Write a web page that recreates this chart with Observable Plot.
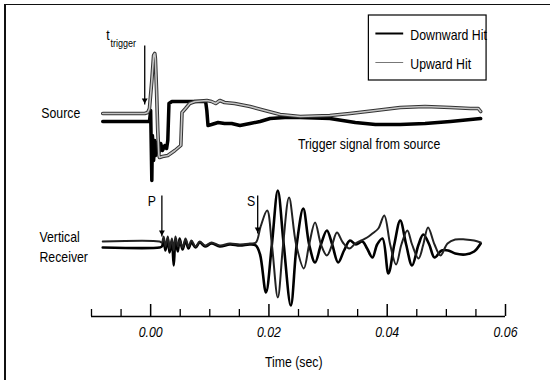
<!DOCTYPE html>
<html><head><meta charset="utf-8">
<script src="https://cdn.jsdelivr.net/npm/d3@7"></script>
<script src="https://cdn.jsdelivr.net/npm/@observablehq/plot@0.6"></script>
<style>
html,body{margin:0;padding:0;background:#fff;}
#wrap{position:relative;width:550px;height:380px;overflow:hidden;}
#chart svg{display:block;}
#border{position:absolute;left:4px;top:4px;width:560px;height:400px;box-sizing:border-box;border-top:1.5px solid #111;border-left:2px solid #111;pointer-events:none;}
</style></head><body>
<div id="wrap"><div id="chart"></div><div id="border"></div></div>
<script>
// ---- Source trace (trigger signal), time in seconds, amplitude in arbitrary units ----
const srcDownT = [-0.0081,-0.0003,-0.0002,0.0000,0.0002,0.0003,0.0005,0.0007,0.0008,0.0010,0.0014,0.0017,0.0020,0.0024,0.0027,0.0029,0.0031,0.0036,0.0066,0.0093,0.0095,0.0097,0.0103,0.0114,0.0125,0.0137,0.0151,0.0168,0.0185,0.0202,0.0227,0.0253,0.0303,0.0346,0.0380,0.0422,0.0464,0.0507,0.0558];
const srcDownA = [0,0,0,11,-59,-14,-39,-19,-34,-21,-31,-22,-29,-24,-27,-19,18,20,20,20,11,-4,-3,-1,-2,-2,-4,-2,0,3,4,4,3,-1,-3,-3,-2,0,3];
const srcUpT = [-0.0081,-0.0010,-0.0005,-0.0002,0.0002,0.0005,0.0007,0.0008,0.0010,0.0012,0.0014,0.0015,0.0020,0.0029,0.0041,0.0051,0.0053,0.0059,0.0066,0.0075,0.0095,0.0103,0.0110,0.0117,0.0125,0.0142,0.0168,0.0193,0.0219,0.0253,0.0303,0.0337,0.0380,0.0422,0.0464,0.0507,0.0541,0.0554,0.0558];
const srcUpA = [8,8,9,13,41,66,68,63,31,-9,-34,-36,-35,-34,-29,-24,9,13,18,20,21,20,18,21,19,18,15,11,7,5,6,8,11,14,15,14,13,13,10];

// ---- Vertical receiver ----
const recDownT = [-0.0081,0.0015,0.0019,0.0022,0.0025,0.0029,0.0032,0.0036,0.0039,0.0042,0.0046,0.0049,0.0054,0.0059,0.0064,0.0069,0.0076,0.0083,0.0092,0.0103,0.0117,0.0134,0.0151,0.0168,0.0178,0.0185,0.0195,0.0205,0.0215,0.0225,0.0237,0.0247,0.0258,0.0268,0.0278,0.0288,0.0298,0.0307,0.0317,0.0327,0.0337,0.0347,0.0358,0.0366,0.0375,0.0383,0.0392,0.0402,0.0412,0.0422,0.0432,0.0442,0.0453,0.0461,0.0471,0.0480,0.0492,0.0503,0.0515,0.0532,0.0547,0.0558];
const recDownA = [-3,-3,-2,4,-6,6,-8,3,-21,3,-7,6,-5,4,-4,2,-3,2,-2,1,-2,0,-1,0,-1,-10,-48,0,54,0,-61,0,36,0,-18,0,14,0,-18,-6,4,0,3,-4,-13,0,6,-29,0,24,0,-21,0,10,0,-13,-6,-6,-9,-10,-7,1];
const recUpT = [-0.0081,0.0015,0.0019,0.0022,0.0025,0.0029,0.0032,0.0036,0.0039,0.0042,0.0046,0.0049,0.0054,0.0059,0.0064,0.0069,0.0076,0.0083,0.0092,0.0103,0.0117,0.0134,0.0151,0.0168,0.0178,0.0186,0.0197,0.0205,0.0215,0.0224,0.0234,0.0246,0.0259,0.0268,0.0278,0.0288,0.0298,0.0307,0.0315,0.0325,0.0336,0.0346,0.0356,0.0366,0.0375,0.0385,0.0395,0.0405,0.0415,0.0424,0.0434,0.0442,0.0453,0.0461,0.0469,0.0480,0.0490,0.0502,0.0515,0.0532,0.0547,0.0558];
const recUpA = [3,3,2,8,-2,8,-4,6,-6,8,-2,4,-3,6,-2,4,-2,3,-1,2,-1,1,0,1,2,18,34,0,-53,0,47,0,-24,0,22,0,-11,0,12,2,-4,1,4,7,11,16,29,0,-20,0,14,0,-14,0,17,0,-11,1,5,5,4,2];

// ---- axis ----
const majorTicks = [0, 0.02, 0.04, 0.06];
const minorTicks = [-0.01, -0.005, 0.005, 0.01, 0.015, 0.025, 0.03, 0.035, 0.045, 0.05, 0.055];
const seriesNames = ["Downward Hit", "Upward Hit"];

// channel offsets on the shared amplitude scale
const sourceOffset = 0, receiverOffset = -123, axisLevel = -195;

const toRows = (T, A, off) => T.map((t, i) => ({t, v: A[i] + off}));
const srcDown = toRows(srcDownT, srcDownA, sourceOffset);
const srcUp = toRows(srcUpT, srcUpA, sourceOffset);
const recDown = toRows(recDownT, recDownA, receiverOffset);
const recUp = toRows(recUpT, recUpA, receiverOffset);

const FONT = "'Liberation Sans',Arial,sans-serif";

const labels = [
  {label: "Source", t: -0.0185, v: 4},
  {label: "Vertical", t: -0.0188, v: -120},
  {label: "Receiver", t: -0.0188, v: -140},
  {label: "P", t: -0.0005, v: -84},
  {label: "S", t: 0.0163, v: -84},
  {label: "Trigger signal from source", t: 0.0249, v: -27}
];
const arrows = [
  {t: -0.0010, v1: 76, v2: 17},
  {t: 0.0019, v1: -74, v2: -115},
  {t: 0.0181, v1: -74, v2: -112}
];
const legendRows = [
  {name: seriesNames[0], v: 88, stroke: "#000", w: 2},
  {name: seriesNames[1], v: 59, stroke: "#777", w: 1}
];

const chart = Plot.plot({
  width: 550, height: 380,
  marginLeft: 91, marginRight: 45, marginTop: 0, marginBottom: 64,
  x: {domain: [-0.01, 0.06]},
  y: {domain: [axisLevel, 121], axis: null},
  style: {fontFamily: FONT, background: "white", overflow: "visible"},
  marks: [
    // axis line and upward ticks
    Plot.ruleY([axisLevel], {x1: -0.01, x2: 0.06, stroke: "#000", strokeWidth: 1.6}),
    Plot.ruleX(majorTicks, {x: d => d, y1: axisLevel, y2: axisLevel + 12, stroke: "#000", strokeWidth: 1.5}),
    Plot.ruleX(minorTicks, {x: d => d, y1: axisLevel, y2: axisLevel + 7, stroke: "#000", strokeWidth: 1.3}),
    Plot.axisX({ticks: majorTicks, tickSize: 0, tickPadding: 10, tickFormat: d => d.toFixed(2), label: null, fontSize: 15, fontStyle: "italic", fontFamily: FONT}),
    Plot.text(["Time (sec)"], {x: 0.0242, y: axisLevel - 50, text: d => d, fontSize: 15, lineAnchor: "bottom", fill: "#000"}),

    // source traces
    Plot.line(srcDown, {x: "t", y: "v", stroke: "#000", strokeWidth: 3.5, strokeLinejoin: "round"}),
    Plot.line(srcUp, {x: "t", y: "v", stroke: "#333", strokeWidth: 3.6, strokeLinejoin: "round"}),
    Plot.line(srcUp, {x: "t", y: "v", stroke: "#c4c4c4", strokeWidth: 1.6, strokeLinejoin: "round"}),

    // receiver traces
    Plot.line(recDown, {x: "t", y: "v", stroke: "#000", strokeWidth: 2.6, curve: "catmull-rom"}),
    Plot.line(recUp, {x: "t", y: "v", stroke: "#222", strokeWidth: 2, curve: "catmull-rom"}),

    // annotations
    Plot.text(labels, {x: "t", y: "v", text: "label", textAnchor: "start", lineAnchor: "bottom", fontSize: 15, fill: "#000"}),
    Plot.text(["t"], {x: -0.0075, y: 82, text: d => d, textAnchor: "start", lineAnchor: "bottom", fontSize: 15, fill: "#000"}),
    Plot.text(["trigger"], {x: -0.0068, y: 75, text: d => d, textAnchor: "start", lineAnchor: "bottom", fontSize: 11, fill: "#000"}),
    Plot.link(arrows, {x1: "t", x2: "t", y1: "v1", y2: "v2", stroke: "#000", strokeWidth: 1.3}),
    Plot.dot(arrows, {x: "t", y: "v2", symbol: "triangle2", rotate: 180, r: 2.8, dy: -4.2, fill: "#000", stroke: "none"}),

    // legend
    Plot.rect([0], {x1: 0.0369, x2: 0.0568, y1: 41, y2: 106, fill: "white", stroke: "#000", strokeWidth: 1.2}),
    Plot.link(legendRows, {x1: 0.0380, x2: 0.0427, y1: "v", y2: "v", stroke: "stroke", strokeWidth: "w"}),
    Plot.text(legendRows, {x: 0.0439, y: d => d.v - 6, text: "name", textAnchor: "start", lineAnchor: "bottom", fontSize: 15, fill: "#000"})
  ]
});
document.getElementById("chart").appendChild(chart);
// condensed (Arial Narrow-like) lettering: squeeze every label horizontally
chart.querySelectorAll("text").forEach(el => {
  const w = el.getComputedTextLength();
  if (w > 0) {
    el.setAttribute("textLength", (w * 0.82).toFixed(1));
    el.setAttribute("lengthAdjust", "spacingAndGlyphs");
  }
});
</script></body></html>
